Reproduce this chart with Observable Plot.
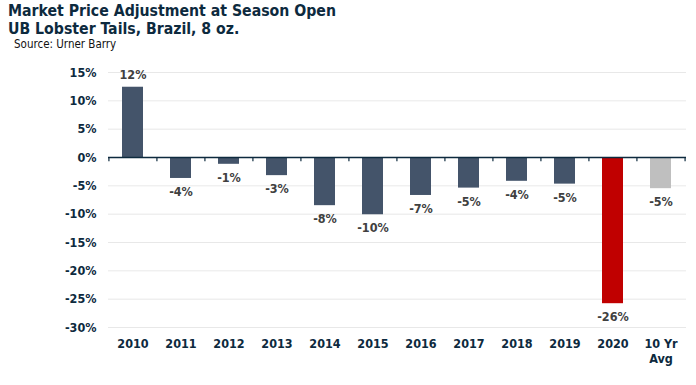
<!DOCTYPE html>
<html>
<head>
<meta charset="utf-8">
<script src="https://cdn.jsdelivr.net/npm/d3@7"></script>
<script src="https://cdn.jsdelivr.net/npm/@observablehq/plot@0.6"></script>
<style>
  html, body { margin: 0; padding: 0; background: #fff; }
  #wrap { width: 696px; height: 385px; position: relative; overflow: hidden; font-family: "DejaVu Sans Condensed", "DejaVu Sans", sans-serif; }
  #head { height: 58px; position: relative; }
  .t { position: absolute; left: 8px; font-weight: bold; font-size: 15.7px; line-height: 18px; color: #0d2a3e; white-space: nowrap; }
  .s { position: absolute; left: 14px; top: 37.5px; font-size: 11.5px; line-height: 13px; color: #111; white-space: nowrap; }
</style>
</head>
<body>
<div id="wrap">
  <div id="head">
    <div class="t" style="top:2px">Market Price Adjustment at Season Open</div>
    <div class="t" style="top:20px">UB Lobster Tails, Brazil, 8 oz.</div>
    <div class="s">Source: Urner Barry</div>
  </div>
  <div id="chart"></div>
</div>
<script>
const categories = ["2010","2011","2012","2013","2014","2015","2016","2017","2018","2019","2020","10 Yr Avg"];
const values = [12.4, -3.7, -1.2, -3.2, -8.5, -10.1, -6.7, -5.4, -4.2, -4.7, -25.8, -5.5];
const colors = ["#44546a","#44546a","#44546a","#44546a","#44546a","#44546a","#44546a","#44546a","#44546a","#44546a","#c00000","#bfbfbf"];
const yTicks = [15, 10, 5, 0, -5, -10, -15, -20, -25, -30];

const data = categories.map((c, i) => ({cat: c, v: values[i], color: colors[i]}));
const W = 696, ML = 108, MR = 10;
const step = (W - ML - MR) / categories.length;

const chart = Plot.plot({
  width: W,
  height: 327,
  marginTop: 14,
  marginBottom: 58,
  marginLeft: ML,
  marginRight: MR,
  style: {fontFamily: "'DejaVu Sans Condensed', 'DejaVu Sans', sans-serif", fontSize: "12.5px", fontWeight: "bold", color: "#0d2a3e", background: "#fff"},
  x: {domain: categories, paddingInner: 0.56, paddingOuter: 0.28, label: null},
  y: {domain: [-30, 15], label: null},
  marks: [
    Plot.gridY(yTicks, {stroke: "#d9d9d9", strokeOpacity: 0.6}),
    Plot.axisY(yTicks, {tickSize: 0, tickPadding: 12, tickFormat: d => d + "%", label: null}),
    Plot.axisX({tickSize: 0, tickPadding: 10, lineHeight: 1.2, label: null,
      tickFormat: d => d === "10 Yr Avg" ? "10 Yr\nAvg" : d}),
    Plot.barY(data, {x: "cat", y: "v", fill: "color"}),
    Plot.ruleX(data, {x: "cat", y1: 0, y2: -0.75, dx: -step / 2, stroke: "#0d2a3e", strokeWidth: 1.2}),
    Plot.ruleX(data.slice(-1), {x: "cat", y1: 0, y2: -0.75, dx: step / 2, stroke: "#0d2a3e", strokeWidth: 1.2}),
    Plot.ruleY([0], {stroke: "#0d2a3e", strokeWidth: 1.5}),
    Plot.text(data.filter(d => d.v >= 0), {x: "cat", y: "v", text: d => Math.round(d.v) + "%", dy: -12, fill: "#404040", fontWeight: "bold", fontSize: 12.5}),
    Plot.text(data.filter(d => d.v < 0), {x: "cat", y: "v", text: d => Math.round(d.v) + "%", dy: 13.5, fill: "#404040", fontWeight: "bold", fontSize: 12.5})
  ]
});
document.getElementById("chart").appendChild(chart);
</script>
</body>
</html>
